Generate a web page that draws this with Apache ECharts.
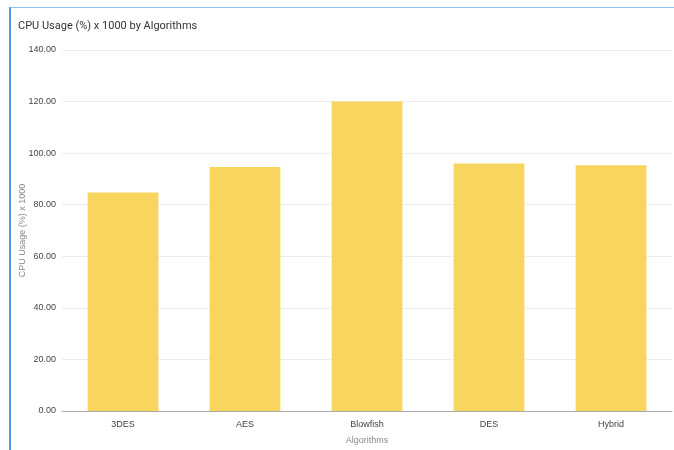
<!DOCTYPE html>
<html>
<head>
<meta charset="utf-8">
<script src="https://cdn.jsdelivr.net/npm/echarts@6/dist/echarts.min.js"></script>
<style>
  html, body { margin: 0; padding: 0; background: #fff; }
  #frame {
    position: absolute; left: 9px; top: 7px; width: 665px; height: 443px;
    border-left: 2px solid #4a98e0; border-top: 1px solid #8cc0ee;
    box-sizing: border-box;
  }
  #chart { position: absolute; left: 0; top: 0; width: 674px; height: 450px; }
</style>
</head>
<body>
<div id="frame"></div>
<div id="chart"></div>
<script>
// CPU usage per algorithm, scaled by 1000
const algorithms = ['3DES', 'AES', 'Blowfish', 'DES', 'Hybrid'];
const cpuUsage = [84.7, 94.6, 120.0, 96.0, 95.3];
const yTicks = { min: 0, max: 140, interval: 20 };

const chart = echarts.init(document.getElementById('chart'), null, { renderer: 'canvas' });
chart.setOption({
  animation: false,
  title: {
    text: 'CPU Usage (%) x 1000 by Algorithms',
    left: 13, top: 16,
    textStyle: { fontFamily: 'Roboto, Arial, sans-serif', fontSize: 11, fontWeight: 'normal', color: '#333' }
  },
  grid: { left: 62, right: 2, top: 50, bottom: 33, containLabel: false },
  xAxis: {
    type: 'category',
    data: algorithms,
    name: 'Algorithms',
    nameLocation: 'middle',
    nameGap: 25,
    nameTextStyle: { fontFamily: 'Liberation Sans, Arial, sans-serif', fontSize: 9, color: '#888' },
    axisLine: { lineStyle: { color: '#aaa', width: 1 } },
    axisTick: { show: false },
    axisLabel: { margin: 9, fontFamily: 'Liberation Sans, Arial, sans-serif', fontSize: 9, color: '#444' }
  },
  yAxis: {
    type: 'value',
    min: yTicks.min, max: yTicks.max, interval: yTicks.interval,
    name: 'CPU Usage (%) x 1000',
    nameLocation: 'middle',
    nameGap: 35,
    nameMoveOverlap: false,
    nameTextStyle: { fontFamily: 'Liberation Sans, Arial, sans-serif', fontSize: 9, color: '#888' },
    axisLine: { show: false },
    axisTick: { show: false },
    splitLine: { lineStyle: { color: '#ececec', width: 1 } },
    axisLabel: {
      margin: 6,
      fontFamily: 'Liberation Sans, Arial, sans-serif', fontSize: 9, color: '#444',
      formatter: v => v.toFixed(2)
    }
  },
  series: [{
    type: 'bar',
    data: cpuUsage,
    barCategoryGap: '42%',
    itemStyle: { color: '#f8d55e' }
  }]
});
</script>
</body>
</html>
